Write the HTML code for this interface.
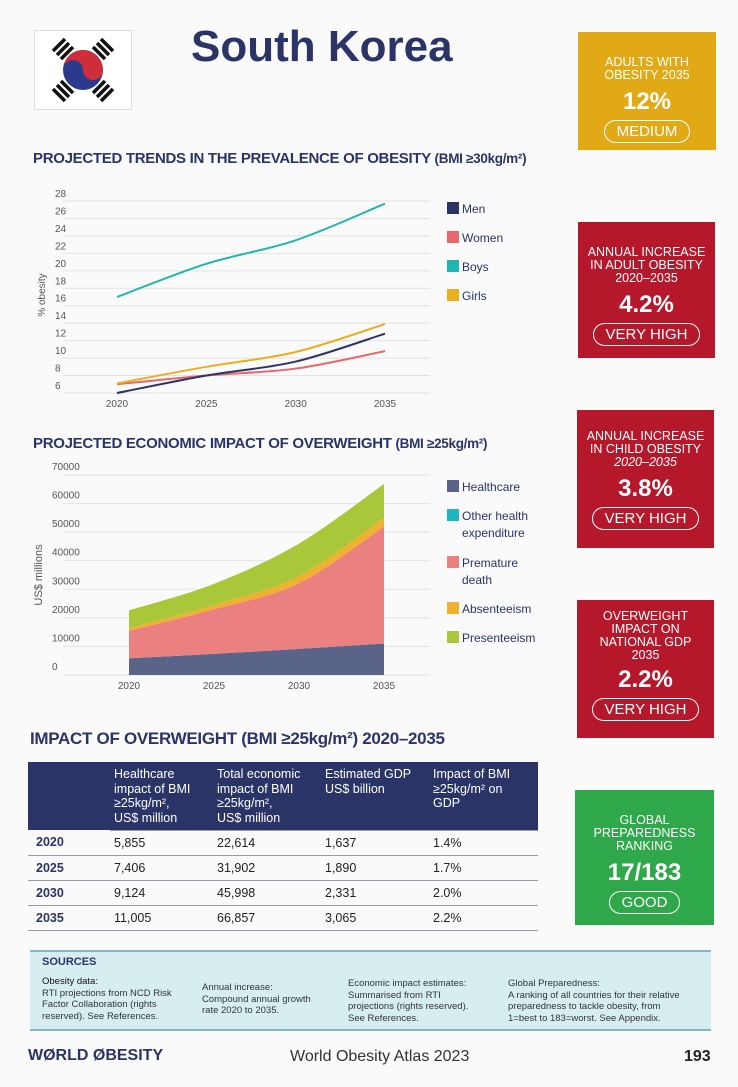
<!DOCTYPE html>
<html><head><meta charset="utf-8">
<style>
body{margin:0;width:738px;height:1087px;background:#fafafa;font-family:"Liberation Sans",sans-serif;position:relative;overflow:hidden;color:#2b3467}
.abs{position:absolute}
.kpi{position:absolute;color:#fff;text-align:center;box-sizing:border-box}
.kpi .lab{font-size:12.5px;line-height:13px;margin-top:24px}
.kpi .val{font-size:24px;font-weight:bold;margin-top:6px}
.kpi .pill{display:inline-block;border:1.5px solid #fff;border-radius:14px;font-size:15px;padding:2px 12px;margin-top:4px}
.sec{position:absolute;left:33px;font-weight:bold;color:#2b3467;letter-spacing:-0.3px}
.leg{position:absolute;font-size:12px;color:#2b3467}
.leg i{position:absolute;left:0;top:0;width:12px;height:12px}
.leg span{position:absolute;left:15px;top:-1px;line-height:17px;white-space:nowrap}
table{border-collapse:collapse}
td{font-size:12.5px;color:#222;height:24px;padding:0 4px 0 4px;border-bottom:1px solid #99a;vertical-align:middle}
td.h{color:#fff;vertical-align:top;padding-top:5px;line-height:14.5px;font-size:12.5px}
td.y{font-weight:bold;color:#2b3467;padding-left:8px}
.src{font-size:9.5px;color:#333;line-height:11.5px;position:absolute;top:24px}
</style></head><body>
<div class="abs" style="left:34px;top:30px;width:96px;height:78px;background:#fff;border:1px solid #ddd">
<svg width="96" height="78" viewBox="0 0 96 78">
<circle cx="48" cy="39" r="20" fill="#2b3a8c"/>
<path d="M28 39 A20 20 0 0 1 68 39 A10 10 0 0 1 48 39 A10 10 0 0 0 28 39Z" fill="#cd2e3a"/>
<g stroke="#111" stroke-width="3.5">
<path d="M18 20 L30 8 M22 24 L34 12 M26 28 L38 16"/>
<path d="M66 8 L78 20 M62 12 L74 24 M58 16 L70 28"/>
<path d="M18 58 L30 70 M22 54 L34 66 M26 50 L38 62"/>
<path d="M66 70 L78 58 M62 66 L74 54 M58 62 L70 50"/>
</g></svg></div>
<div class="abs" style="left:191px;top:22px;font-size:44px;font-weight:bold;color:#2b3467">South Korea</div>

<div class="kpi" style="left:578px;top:32px;width:138px;height:118px;background:#e0a915"><div class="lab">ADULTS WITH<br>OBESITY 2035</div><div class="val">12%</div><div class="pill">MEDIUM</div></div>
<div class="kpi" style="left:578px;top:222px;width:137px;height:136px;background:#b5182b"><div class="lab">ANNUAL INCREASE<br>IN ADULT OBESITY<br>2020–2035</div><div class="val">4.2%</div><div class="pill">VERY HIGH</div></div>
<div class="kpi" style="left:577px;top:410px;width:137px;height:138px;background:#b5182b"><div class="lab" style="margin-top:20px">ANNUAL INCREASE<br>IN CHILD OBESITY<br><i>2020–2035</i></div><div class="val">3.8%</div><div class="pill">VERY HIGH</div></div>
<div class="kpi" style="left:577px;top:600px;width:137px;height:138px;background:#b5182b"><div class="lab" style="margin-top:10px">OVERWEIGHT<br>IMPACT ON<br>NATIONAL GDP<br>2035</div><div class="val" style="margin-top:4px">2.2%</div><div class="pill">VERY HIGH</div></div>
<div class="kpi" style="left:575px;top:790px;width:139px;height:135px;background:#2ea84a"><div class="lab">GLOBAL<br>PREPAREDNESS<br>RANKING</div><div class="val">17/183</div><div class="pill">GOOD</div></div>

<div class="sec" style="top:150px;font-size:15px">PROJECTED TRENDS IN THE PREVALENCE OF OBESITY <span style="font-size:13.5px">(BMI ≥30kg/m²)</span></div>
<svg class="abs" id="c1" style="left:0;top:180px" width="440" height="235"></svg>
<div class="leg" style="left:447px;top:202px"><i style="background:#2b3467"></i><span>Men</span></div>
<div class="leg" style="left:447px;top:231px"><i style="background:#e8676b"></i><span>Women</span></div>
<div class="leg" style="left:447px;top:260px"><i style="background:#1fb5b0"></i><span>Boys</span></div>
<div class="leg" style="left:447px;top:289px"><i style="background:#e8b021"></i><span>Girls</span></div>

<div class="sec" style="top:435px;font-size:15px">PROJECTED ECONOMIC IMPACT OF OVERWEIGHT <span style="font-size:13.5px">(BMI ≥25kg/m²)</span></div>
<svg class="abs" id="c2" style="left:0;top:460px" width="440" height="235"></svg>
<div class="leg" style="left:447px;top:480px"><i style="background:#5a6388"></i><span>Healthcare</span></div>
<div class="leg" style="left:447px;top:509px"><i style="background:#1fb5c0"></i><span>Other health<br>expenditure</span></div>
<div class="leg" style="left:447px;top:556px"><i style="background:#ea8080"></i><span>Premature<br>death</span></div>
<div class="leg" style="left:447px;top:602px"><i style="background:#f0b030"></i><span>Absenteeism</span></div>
<div class="leg" style="left:447px;top:631px"><i style="background:#a8c83a"></i><span>Presenteeism</span></div>

<div class="sec" style="left:30px;top:729px;font-size:17px">IMPACT OF OVERWEIGHT (BMI ≥25kg/m²) 2020–2035</div>
<table class="abs" style="left:28px;top:762px;width:510px">
<tr style="background:#2b3467;height:68px"><td style="border:0;width:74px"></td>
<td class="h" style="width:95px">Healthcare<br>impact of BMI<br>≥25kg/m²,<br>US$ million</td>
<td class="h" style="width:100px">Total economic<br>impact of BMI<br>≥25kg/m²,<br>US$ million</td>
<td class="h" style="width:100px">Estimated GDP<br>US$ billion</td>
<td class="h">Impact of BMI<br>≥25kg/m² on<br>GDP</td></tr>
<tr><td class="y">2020</td><td>5,855</td><td>22,614</td><td>1,637</td><td>1.4%</td></tr>
<tr><td class="y">2025</td><td>7,406</td><td>31,902</td><td>1,890</td><td>1.7%</td></tr>
<tr><td class="y">2030</td><td>9,124</td><td>45,998</td><td>2,331</td><td>2.0%</td></tr>
<tr><td class="y">2035</td><td>11,005</td><td>66,857</td><td>3,065</td><td>2.2%</td></tr>
</table>

<div class="abs" style="left:30px;top:950px;width:681px;height:77px;background:#d7eef0;border-top:2px solid #7fb8c0;border-bottom:2px solid #7fb8c0">
<div style="position:absolute;left:12px;top:4px;font-size:11px;font-weight:bold;color:#2b3467">SOURCES</div>
<div class="src" style="left:12px"><b style="font-weight:normal;color:#111">Obesity data:</b><br>RTI projections from NCD Risk<br>Factor Collaboration (rights<br>reserved). See References.</div>
<div class="src" style="left:172px;top:30px">Annual increase:<br>Compound annual growth<br>rate 2020 to 2035.</div>
<div class="src" style="left:318px;top:26px">Economic impact estimates:<br>Summarised from RTI<br>projections (rights reserved).<br>See References.</div>
<div class="src" style="left:478px;top:26px">Global Preparedness:<br>A ranking of all countries for their relative<br>preparedness to tackle obesity, from<br>1=best to 183=worst. See Appendix.</div>
</div>
<div class="abs" style="left:28px;top:1047px;font-size:16px;font-weight:bold;color:#2b3467">WØRLD ØBESITY</div>
<div class="abs" style="left:290px;top:1048px;font-size:16px;color:#333">World Obesity Atlas 2023</div>
<div class="abs" style="left:684px;top:1048px;font-size:16px;font-weight:bold;color:#222">193</div>

<script>
const NS="http://www.w3.org/2000/svg";
const years=[2020,2025,2030,2035];
const men=[6.0,8.0,9.6,12.8];
const women=[7.0,8.0,8.8,10.8];
const boys=[17.0,20.8,23.5,27.7];
const girls=[7.1,9.0,10.7,13.9];
const yTicks1=[6,8,10,12,14,16,18,20,22,24,26,28];
const healthcare=[5855,7406,9124,11005];
const otherHealth=[0,0,0,0];
const premature=[9600,15600,23000,41000];
const absenteeism=[1000,1500,2500,3000];
const presenteeism=[6159,7396,11374,11852];
const yTicks2=[0,10000,20000,30000,40000,50000,60000,70000];
function mk(svg,tag,attrs,txt){const e=document.createElementNS(NS,tag);for(const k in attrs)e.setAttribute(k,attrs[k]);if(txt!==undefined)e.textContent=txt;svg.appendChild(e);return e;}
function smooth(pts,start){let d=start?('M'+pts[0][0]+','+pts[0][1]):('L'+pts[0][0]+','+pts[0][1]);
for(let i=0;i<pts.length-1;i++){const p0=pts[i-1]||pts[i],p1=pts[i],p2=pts[i+1],p3=pts[i+2]||p2;
d+=' C'+(p1[0]+(p2[0]-p0[0])/6)+','+(p1[1]+(p2[1]-p0[1])/6)+' '+(p2[0]-(p3[0]-p1[0])/6)+','+(p2[1]-(p3[1]-p1[1])/6)+' '+p2[0]+','+p2[1];}
return d;}
(function(){
const s=document.getElementById('c1');
const x=v=>117+(v-2020)/15*268;
const y=v=>213-(v-6)/22*192;
yTicks1.forEach(t=>{const g=mk(s,'line',{x1:63,x2:430,y1:y(t),y2:y(t),stroke:'#e2e2e2'});
const l=mk(s,'text',{x:55,y:y(t)-4,'font-size':10,fill:'#555'},t);});
years.forEach(yr=>{const l=mk(s,'text',{x:x(yr),y:227,'font-size':10,fill:'#555','text-anchor':'middle'},yr);});
const t=mk(s,'text',{x:0,y:0,'font-size':10,fill:'#555',transform:'translate(45,115) rotate(-90)','text-anchor':'middle'},'% obesity');
[[boys,'#1fb5b0','line-boys'],[women,'#e8676b','line-women'],[men,'#2b3467','line-men'],[girls,'#e8b021','line-girls']].forEach(([d,c,n])=>{
const p=mk(s,'path',{d:smooth(d.map((v,i)=>[x(years[i]),y(v)]),true),fill:'none',stroke:c,'stroke-width':2});});
})();
(function(){
const s=document.getElementById('c2');
const x=v=>129+(v-2020)/15*255;
const y=v=>215-v/70000*200;
yTicks2.forEach(t=>{const g=mk(s,'line',{x1:63,x2:430,y1:y(t),y2:y(t),stroke:'#e2e2e2'});
const l=mk(s,'text',{x:52,y:y(t)-5,'font-size':10,fill:'#555'},t);});
years.forEach(yr=>{const l=mk(s,'text',{x:x(yr),y:229,'font-size':10,fill:'#555','text-anchor':'middle'},yr);});
const t=mk(s,'text',{x:0,y:0,'font-size':11,fill:'#555',transform:'translate(42,115) rotate(-90)','text-anchor':'middle'},'US$ millions');
const series=[[healthcare,'#5a6388','area-healthcare'],[otherHealth,'#1fb5c0','area-other-health'],[premature,'#ea8080','area-premature-death'],[absenteeism,'#f0b030','area-absenteeism'],[presenteeism,'#a8c83a','area-presenteeism']];
let base=years.map(()=>0);
series.forEach(([d,c,n])=>{const top=base.map((b,i)=>b+d[i]);
const tp=top.map((v,i)=>[x(years[i]),y(v)]);const bp=base.map((v,i)=>[x(years[i]),y(v)]).reverse();
const p=mk(s,'path',{d:smooth(tp,true)+' '+smooth(bp,false)+' Z',fill:c});base=top;});
})();
</script>
</body></html>
